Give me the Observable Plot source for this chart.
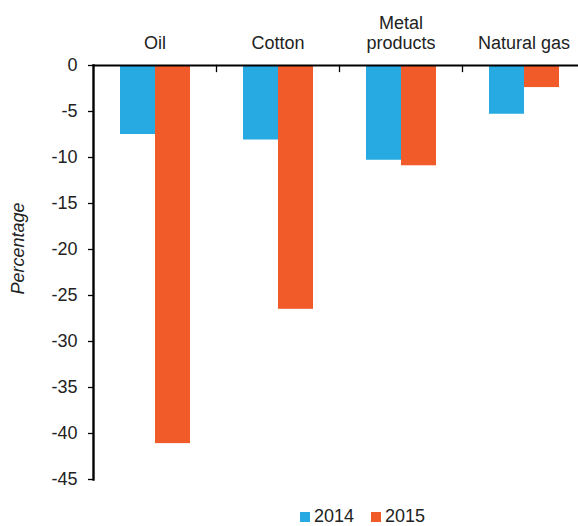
<!DOCTYPE html>
<html>
<head>
<meta charset="utf-8">
<script src="https://cdn.jsdelivr.net/npm/d3@7"></script>
<script src="https://cdn.jsdelivr.net/npm/@observablehq/plot@0.6"></script>
<style>
  body { margin: 0; background: #fff; font-family: "Liberation Sans", Arial, sans-serif; }
  #legend { display: flex; height: 31px; box-sizing: border-box; padding-top: 12px; padding-left: 300px; font-size: 18px; line-height: 18px; color: #222; }
  #legend .item { display: flex; align-items: baseline; margin-right: 17px; }
  #legend .sw { display: inline-block; width: 10px; height: 10px; margin-right: 4px; }
</style>
</head>
<body>
<div id="chart"></div>
<div id="legend"></div>
<script>
const categories = ["Oil", "Cotton", "Metal products", "Natural gas"];
const categoryLabels = ["Oil", "Cotton", "Metal\nproducts", "Natural gas"];
const years = ["2014", "2015"];
const values2014 = [-7.5, -8.1, -10.3, -5.3];
const values2015 = [-41.1, -26.5, -10.9, -2.4];
const yTicks = [0, -5, -10, -15, -20, -25, -30, -35, -40, -45];
const colors = ["#27aae1", "#f15a29"];

const data = [];
categories.forEach((c, i) => {
  data.push({category: c, year: years[0], value: values2014[i]});
  data.push({category: c, year: years[1], value: values2015[i]});
});

const W = 578, H = 495, mTop = 65, mBottom = 16, mLeft = 93;
const facetH = H - mTop - mBottom;

const chart = Plot.plot({
  width: W,
  height: H,
  marginTop: mTop,
  marginBottom: mBottom,
  marginLeft: mLeft,
  marginRight: 0,
  style: {fontFamily: "Liberation Sans, Arial, sans-serif", fontSize: "18px", color: "#222", background: "#fff"},
  fx: {domain: categories, range: [mLeft, mLeft + 4 * 123], padding: 0, label: null},
  x: {domain: years, paddingInner: 0, paddingOuter: 0.757, axis: null},
  y: {domain: [-45, 0], nice: false, label: null},
  color: {domain: years, range: colors},
  marks: [
    Plot.barY(data, {fx: "category", x: "year", y: "value", fill: "year"}),
    Plot.frame({anchor: "right", insetBottom: facetH - 6, stroke: "#000", strokeWidth: 1.3}),
    Plot.axisFx({anchor: "top", tickSize: 0, tickPadding: 17, lineHeight: 1.11, fontSize: 18,
      tickFormat: d => categoryLabels[categories.indexOf(d)], label: null, fill: "#222"}),
    Plot.axisY({ticks: yTicks, tickSize: 5, tickPadding: 11, tickFormat: d => String(d),
      fontSize: 18, label: null, stroke: "#000", strokeWidth: 1.3, fill: "#222"}),
    Plot.frame({anchor: "left", facet: "super", stroke: "#000", strokeWidth: 2.4}),
    Plot.frame({anchor: "top", facet: "super", stroke: "#000", strokeWidth: 2}),
    Plot.text(["Percentage"], {frameAnchor: "left", facet: "super", rotate: -90, dx: -75, dy: 22,
      fontStyle: "italic", fontSize: 18, fill: "#222"})
  ]
});
document.getElementById("chart").appendChild(chart);

const legend = document.getElementById("legend");
years.forEach((y, i) => {
  const item = document.createElement("span");
  item.className = "item";
  const sw = document.createElement("span");
  sw.className = "sw";
  sw.style.background = colors[i];
  const t = document.createElement("span");
  t.textContent = y;
  item.appendChild(sw);
  item.appendChild(t);
  legend.appendChild(item);
});
</script>
</body>
</html>
